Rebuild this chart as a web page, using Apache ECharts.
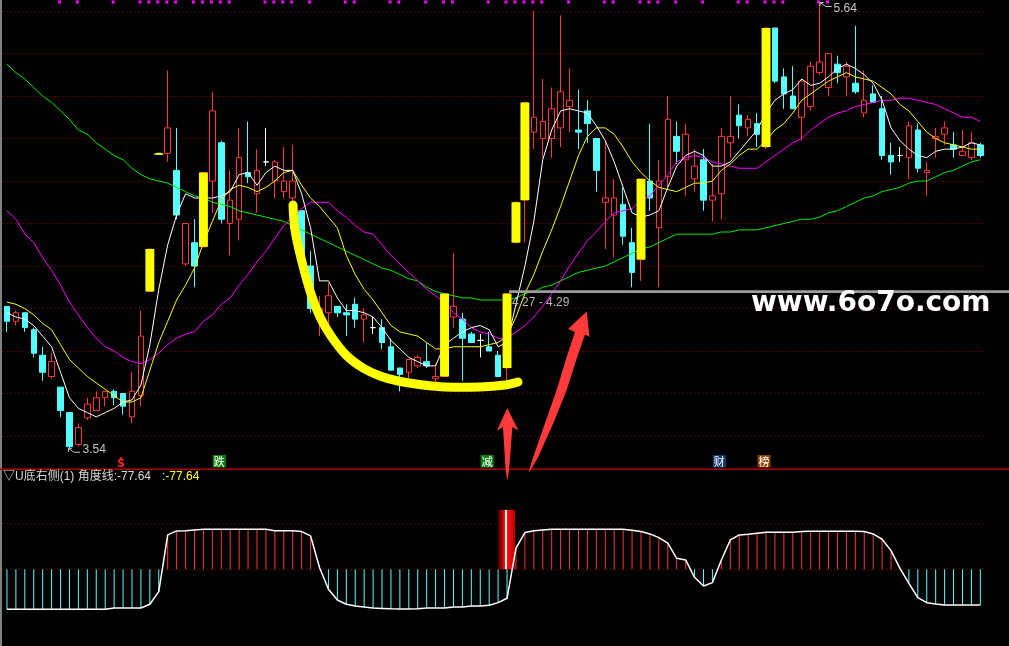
<!DOCTYPE html>
<html>
<head>
<meta charset="utf-8">
<script src="https://cdn.jsdelivr.net/npm/echarts@6/dist/echarts.min.js"></script>
<style>html,body{margin:0;padding:0;background:#000;overflow:hidden}#c{width:1009px;height:646px}</style>
</head>
<body>
<div id="c"></div>
<script>
// ---------- data ----------
const opens = [4.21,4.14,4.18,4.10,3.98,3.88,3.83,3.71,3.56,3.685,
3.72,3.78,3.81,3.80,3.69,3.79,4.28,4.93,4.93,4.85,
4.41,4.51,4.49,4.80,4.98,4.60,4.62,4.84,4.74,4.89,
4.80,4.75,4.72,4.66,4.40,4.17,4.18,4.21,4.18,4.22,
4.15,4.11,4.11,4.02,3.92,3.90,3.93,3.95,3.87,3.88,
4.16,4.15,4.08,4.05,4.02,3.98,3.92,4.51,4.71,5.03,
5.00,5.00,5.05,5.15,5.04,5.13,5.00,4.70,4.64,4.69,
4.51,4.43,4.80,4.58,4.82,5.01,4.90,4.81,4.90,4.71,
4.74,4.98,5.11,5.05,5.07,4.96,5.52,5.29,5.20,5.10,
5.15,5.31,5.24,5.35,5.29,5.26,5.12,5.21,5.14,4.92,
4.92,4.91,5.04,4.84,5.00,5.02,4.97,4.92,4.91,4.97];
const closes = [4.14,4.18,4.11,3.99,3.90,3.95,3.72,3.55,3.64,3.75,
3.78,3.81,3.78,3.74,3.81,4.07,4.48,4.93,5.05,4.64,
4.60,4.40,4.84,5.13,4.62,4.71,4.91,4.82,4.85,4.89,
4.89,4.80,4.80,4.45,4.20,4.20,4.26,4.18,4.17,4.15,
4.17,4.11,4.04,3.91,3.89,3.96,3.97,3.93,3.88,4.27,
4.21,4.06,4.04,4.05,4.00,3.88,4.27,4.70,5.17,5.10,
5.08,5.14,5.22,5.18,5.03,5.07,4.85,4.72,4.72,4.54,
4.37,4.81,4.72,4.80,5.09,4.94,5.02,4.87,4.71,4.73,
5.01,5.01,5.06,5.09,5.02,5.52,5.27,5.21,5.14,5.27,
5.34,5.36,5.40,5.31,5.34,5.22,5.18,5.17,4.92,4.89,
4.92,5.06,4.86,4.85,5.01,5.05,4.95,4.94,4.98,4.92];
const lows = [4.09,4.12,4.09,3.97,3.86,3.87,3.69,3.54,3.55,3.675,
3.72,3.74,3.745,3.70,3.66,3.74,4.28,4.93,4.89,4.62,
4.40,4.30,4.49,4.65,4.60,4.45,4.52,4.79,4.65,4.87,
4.72,4.72,4.68,4.43,4.18,4.07,4.11,4.16,4.07,4.11,
4.04,4.08,4.01,3.91,3.81,3.87,3.92,3.92,3.85,3.88,
4.11,3.86,4.04,3.97,4.00,3.88,3.85,4.51,4.51,4.95,
4.91,4.91,4.96,5.03,4.95,4.98,4.75,4.48,4.44,4.50,
4.30,4.33,4.66,4.30,4.77,4.88,4.73,4.75,4.66,4.61,
4.62,4.91,5.00,5.01,4.96,4.95,5.26,5.14,5.14,4.99,
5.13,5.30,5.20,5.26,5.20,5.21,5.10,5.17,4.90,4.83,
4.89,4.81,4.84,4.73,4.91,4.97,4.91,4.92,4.90,4.91];
const highs = [4.21,4.19,4.18,4.11,4.02,3.99,3.83,3.71,3.66,3.78,
3.81,3.81,3.82,3.80,3.90,4.19,4.48,4.93,5.32,5.05,
4.60,4.62,4.84,5.22,4.99,4.85,5.05,5.08,4.95,5.05,
4.90,4.96,4.97,4.66,4.47,4.26,4.32,4.21,4.22,4.25,
4.20,4.16,4.15,4.06,3.92,3.96,3.98,4.04,3.94,4.27,
4.46,4.18,4.09,4.08,4.09,4.00,4.27,4.70,5.17,5.60,
5.28,5.24,5.58,5.33,5.23,5.18,5.00,4.99,4.81,4.77,
4.58,4.81,5.07,4.90,5.20,5.08,5.07,4.95,4.95,4.88,
5.05,5.20,5.16,5.11,5.12,5.52,5.52,5.33,5.34,5.28,
5.36,5.64,5.40,5.39,5.36,5.53,5.32,5.25,5.20,4.98,
4.96,5.08,5.07,4.89,5.05,5.08,5.03,5.04,5.03,4.98];
// moving-average lines (white, yellow, magenta, green)
const maWhite = [4.18,4.16,4.15,4.12,4.07,4.02,3.90,3.78,3.73,3.71,
3.69,3.71,3.73,3.76,3.77,3.84,4.03,4.29,4.50,4.64,
4.74,4.72,4.72,4.72,4.73,4.75,4.83,4.84,4.78,4.84,
4.87,4.85,4.85,4.74,4.58,4.33,4.33,4.25,4.19,4.19,
4.18,4.16,4.11,4.05,4.01,3.97,3.95,3.93,3.93,4.03,
4.06,4.09,4.11,4.12,4.10,4.02,4.04,4.22,4.40,4.61,
4.90,5.04,5.13,5.14,5.13,5.12,5.06,4.99,4.89,4.77,
4.65,4.63,4.64,4.66,4.77,4.87,4.92,4.94,4.92,4.87,
4.87,4.89,4.94,4.99,5.04,5.12,5.18,5.21,5.23,5.28,
5.25,5.26,5.29,5.33,5.35,5.33,5.30,5.26,5.18,5.05,
4.99,4.95,4.92,4.91,4.94,4.95,4.95,4.96,4.98,4.97];
const maYellow = [4.23,4.22,4.20,4.17,4.13,4.10,4.03,3.96,3.92,3.88,
3.85,3.82,3.79,3.76,3.76,3.78,3.91,4.04,4.14,4.24,
4.31,4.39,4.51,4.61,4.71,4.76,4.78,4.77,4.75,4.77,
4.80,4.84,4.85,4.78,4.72,4.68,4.63,4.58,4.45,4.36,
4.29,4.24,4.18,4.12,4.09,4.08,4.07,4.04,4.01,4.01,
4.02,4.02,4.02,4.02,4.03,4.04,4.07,4.16,4.27,4.36,
4.47,4.57,4.68,4.80,4.92,5.01,5.05,5.05,5.02,4.96,
4.89,4.84,4.80,4.77,4.76,4.75,4.77,4.79,4.79,4.80,
4.85,4.88,4.92,4.95,4.95,4.99,5.04,5.07,5.12,5.18,
5.21,5.24,5.27,5.29,5.31,5.29,5.28,5.27,5.24,5.21,
5.16,5.13,5.08,5.03,5.00,4.98,4.97,4.96,4.95,4.95];
const maMagenta = [4.66,4.62,4.55,4.51,4.44,4.38,4.31,4.23,4.17,4.11,
4.06,4.02,4.00,3.97,3.95,3.94,3.96,3.99,4.03,4.06,
4.08,4.09,4.14,4.17,4.22,4.25,4.31,4.36,4.42,4.47,
4.53,4.59,4.63,4.67,4.70,4.70,4.70,4.66,4.63,4.59,
4.56,4.55,4.50,4.45,4.41,4.37,4.33,4.29,4.26,4.23,
4.18,4.15,4.11,4.09,4.08,4.06,4.06,4.09,4.12,4.16,
4.21,4.27,4.33,4.40,4.46,4.52,4.56,4.61,4.65,4.66,
4.67,4.71,4.73,4.78,4.83,4.89,4.91,4.92,4.91,4.89,
4.88,4.87,4.86,4.86,4.86,4.89,4.92,4.95,4.98,5.00,
5.04,5.07,5.10,5.12,5.13,5.15,5.16,5.17,5.18,5.18,
5.19,5.19,5.18,5.17,5.16,5.14,5.12,5.10,5.10,5.08];
const maGreen = [5.35,5.31,5.28,5.24,5.20,5.17,5.13,5.09,5.04,5.02,
4.98,4.95,4.92,4.90,4.86,4.83,4.81,4.80,4.79,4.77,
4.75,4.73,4.72,4.70,4.69,4.68,4.66,4.65,4.64,4.63,
4.62,4.61,4.59,4.57,4.55,4.53,4.51,4.49,4.47,4.45,
4.43,4.41,4.39,4.38,4.36,4.34,4.33,4.30,4.28,4.27,
4.26,4.25,4.25,4.24,4.24,4.24,4.24,4.25,4.27,4.28,
4.30,4.31,4.33,4.35,4.37,4.38,4.39,4.40,4.42,4.44,
4.46,4.48,4.49,4.51,4.53,4.55,4.55,4.55,4.55,4.55,
4.56,4.56,4.57,4.57,4.57,4.58,4.59,4.60,4.61,4.62,
4.62,4.63,4.65,4.66,4.68,4.70,4.72,4.73,4.75,4.76,
4.77,4.79,4.80,4.80,4.82,4.84,4.85,4.87,4.89,4.90];
// limit-up days highlighted with yellow bars
const limitUp = [16,17,22,49,56,57,58,71,85];
// lower panel: "角度线" angle line
const angle = [-87,-87,-87,-87,-87,-87,-87,-87,-87,-87,
-87,-87,-84,-84,-84,-84,-76,-48.6,74.7,83.4,
84,85.5,87,87,87,87,87,87,87,87,
84,84,84,82,72.5,4,-43.5,-66.7,-76,-79.7,
-82,-84,-85,-86,-86.3,-86.3,-86,-84,-84,-84,
-82,-82,-79.7,-79.7,-78.3,-72.5,-63,46,79.8,84,
85.5,87,87,87,87,87,87,87,87,87,
84.8,82,76.9,68.9,57,23.9,20.3,-17.4,-36.3,-29,
20.3,63.8,74.7,76.1,78.3,80.5,80.5,80.5,80.5,82,
82.7,82.7,82.7,82.7,82.7,82.7,82,76.9,65.3,40.6,
2.2,-30.5,-61.6,-72.5,-75.4,-77.6,-77.6,-77.6,-77.6,-77.64];
const signalIdx = [56];
const signalVal = [129];
const topMarks = [6,8,12,15,16,17,18,19,21,22,23,24,25,29,30,31,32,34,38,39,43,44,47,49,50,54,56,57,58,59,60,63,67,68,71,72,73,75,78,82,83,85,86,87,91,92];
const eventIdx = [13,24,54,80,85];
const eventText = ['S','跌','减','财','榜'];
const hiIdx = 91, hiVal = 5.64, loIdx = 7, loVal = 3.54;
const rangeIdx = 56, rangeVal = 4.28, rangeText = '4.27 - 4.29';
const titleText = '▽U底右侧(1) 角度线:-77.64';
const titleValue = ':-77.64';
const watermark = 'www.6o7o.com';
const priceTicks = {min: 3.6, max: 5.6, step: 0.2};

// ---------- chart ----------
const N = opens.length;
const cats = opens.map((_, i) => String(i + 1));
const candleData = opens.map((o, i) => [o, closes[i], lows[i], highs[i]]);
const UP = '#ff3636', DN = '#54ffff';
const GRIDC = '#a00000';
const chart = echarts.init(document.getElementById('c'), null, {renderer: 'canvas'});

function maSeries(data, color) {
  return {type: 'line', xAxisIndex: 0, yAxisIndex: 0, data: data, symbol: 'none', clip: false,
    lineStyle: {color: color, width: 1}, silent: true, z: 3};
}
const splitStyle = {show: true, lineStyle: {color: GRIDC, type: [1, 3], width: 1}};

const option = {
  backgroundColor: '#000',
  animation: false,
  grid: [
    {left: 2.5, width: 982.3, top: 11, height: 425},
    {left: 2.5, width: 982.3, top: 523.3, height: 46}
  ],
  xAxis: [
    {type: 'category', gridIndex: 0, data: cats, boundaryGap: true, show: false},
    {type: 'category', gridIndex: 1, data: cats, boundaryGap: true, show: false}
  ],
  yAxis: [
    {type: 'value', gridIndex: 0, min: priceTicks.min, max: priceTicks.max, interval: priceTicks.step,
      axisLabel: {show: false}, axisLine: {show: false}, axisTick: {show: false}, splitLine: splitStyle},
    {type: 'value', gridIndex: 1, min: 0, max: 100, interval: 100,
      axisLabel: {show: false}, axisLine: {show: false}, axisTick: {show: false}, splitLine: splitStyle}
  ],
  series: [
    {type: 'candlestick', xAxisIndex: 0, yAxisIndex: 0, data: candleData, barWidth: 6, clip: false, z: 2,
      itemStyle: {color: '#000', color0: DN, borderColor: UP, borderColor0: DN,
        borderColorDoji: '#ffffff', borderWidth: 1}},
    maSeries(maGreen, '#00ee00'),
    maSeries(maMagenta, '#ff00ff'),
    maSeries(maYellow, '#ffff00'),
    maSeries(maWhite, '#ffffff'),
    // yellow limit-up bars
    {type: 'custom', xAxisIndex: 0, yAxisIndex: 0, z: 6, clip: false,
      data: limitUp.map(i => [i, opens[i], closes[i]]),
      renderItem: function (params, api) {
        const a = api.coord([api.value(0), api.value(1)]);
        const b = api.coord([api.value(0), api.value(2)]);
        const w = api.size([1, 0])[0];
        const top = Math.min(a[1], b[1]);
        const h = Math.max(Math.abs(a[1] - b[1]), 1.5);
        return {type: 'rect', shape: {x: a[0] - w / 2, y: top, width: w, height: h}, style: {fill: '#ffff00'}};
      }},
    // top magenta marks
    {type: 'custom', xAxisIndex: 0, yAxisIndex: 0, z: 6, clip: false,
      data: topMarks.map(i => [i, priceTicks.max]),
      renderItem: function (params, api) {
        const p = api.coord([api.value(0), api.value(1)]);
        return {type: 'rect', shape: {x: p[0] - 2.5, y: 0.5, width: 3, height: 3}, style: {fill: '#ff00ff'}};
      }},
    // event markers at bottom of main panel
    {type: 'custom', xAxisIndex: 0, yAxisIndex: 0, z: 6, clip: false,
      data: eventIdx.map((i, k) => [i, k]),
      renderItem: function (params, api) {
        const k = api.value(1);
        const x = api.coord([api.value(0), priceTicks.min])[0] - 2;
        const t = eventText[k];
        if (t === 'S') {
          return {type: 'group', children: [
            {type: 'polygon', shape: {points: [[x, 456.5], [x - 2.5, 460], [x + 2.5, 460]]}, style: {fill: '#ff2020'}},
            {type: 'text', x: x, y: 464.5, style: {text: 'S', fill: '#ff2020', fontSize: 11, fontWeight: 'bold',
              fontFamily: 'DejaVu Sans', align: 'center', verticalAlign: 'middle'}}
          ]};
        }
        const bg = {'跌': '#0b820b', '减': '#0b820b', '财': '#123c70', '榜': '#8a4600'}[t];
        return {type: 'group', children: [
          {type: 'rect', shape: {x: x - 6.5, y: 455, width: 13, height: 12.5}, style: {fill: bg}},
          {type: 'text', x: x, y: 461.5, style: {text: t, fill: '#ffffff', fontSize: 11,
            fontFamily: 'Noto Sans CJK SC', align: 'center', verticalAlign: 'middle'}}
        ]};
      }},
    // indicator sticks
    {type: 'custom', xAxisIndex: 1, yAxisIndex: 1, z: 2, clip: false,
      data: angle.map((v, i) => [i, v]),
      renderItem: function (params, api) {
        const v = api.value(1);
        const p0 = api.coord([api.value(0), 0]);
        const p1 = api.coord([api.value(0), v]);
        return {type: 'line', shape: {x1: p0[0], y1: p0[1], x2: p1[0], y2: p1[1]},
          style: {stroke: v >= 0 ? '#ff3636' : '#54ffff', lineWidth: 1}};
      }},
    // signal bar
    {type: 'custom', xAxisIndex: 1, yAxisIndex: 1, z: 4, clip: false,
      data: signalIdx.map((i, k) => [i, signalVal[k]]),
      renderItem: function (params, api) {
        const p0 = api.coord([api.value(0), 0]);
        const p1 = api.coord([api.value(0), api.value(1)]);
        const w = 17;
        return {type: 'rect', shape: {x: p0[0] - w / 2 - 0.5, y: p1[1], width: w, height: p0[1] - p1[1]},
          style: {fill: new echarts.graphic.LinearGradient(0, 0, 1, 0, [
            {offset: 0, color: '#4a0000'}, {offset: 0.25, color: '#b00000'}, {offset: 0.42, color: '#ff1a1a'},
            {offset: 0.44, color: '#ffffff'}, {offset: 0.5, color: '#ffffff'}, {offset: 0.52, color: '#ff1010'},
            {offset: 0.85, color: '#e00000'}, {offset: 1, color: '#a00000'}])}};
      }},
    // indicator line
    {type: 'line', xAxisIndex: 1, yAxisIndex: 1, data: angle, symbol: 'none', clip: false, z: 5,
      lineStyle: {color: '#ffffff', width: 1.5}, silent: true}
  ]
};
chart.setOption(option);

// ---------- annotations ----------
const rangeY = chart.convertToPixel({gridIndex: 0}, [rangeIdx, rangeVal])[1];
const rangeX = chart.convertToPixel({gridIndex: 0}, [rangeIdx, rangeVal])[0] + 2;
const hiP = chart.convertToPixel({gridIndex: 0}, [hiIdx, hiVal]);
const loP = chart.convertToPixel({gridIndex: 0}, [loIdx, loVal]);
const LBL = '#c4c4c4';
const labelFont = {fontSize: 12, fontFamily: 'Liberation Sans, Arial, sans-serif'};

function tagArrow(x, y) {
  // small "↖—" pointer used by TDX for high/low tags
  return [
    {type: 'polyline', z: 50, shape: {points: [[x + 12, y + 4.5], [x + 6, y + 4.5], [x + 0.5, y + 0.5]]}, style: {stroke: LBL, lineWidth: 1, fill: null}},
    {type: 'polyline', z: 50, shape: {points: [[x + 4, y + 0.5], [x + 0.5, y + 0.5], [x + 0.5, y + 4]]}, style: {stroke: LBL, lineWidth: 1, fill: null}}
  ];
}

const graphics = [
  {type: 'rect', z: 50, shape: {x: 0, y: 0, width: 2, height: 646}, style: {fill: '#808080'}},
  {type: 'rect', z: 50, shape: {x: 0, y: 468.5, width: 1009, height: 1.5}, style: {fill: '#b00000'}},
  // hand-drawn U curve
  {type: 'polyline', z: 60, shape: {smooth: 0.35, points: [[293,205],[295,230],[302,262],[311,294],[320,317],[331,336],[346,355],[363,368],[380,376],[398,381],[423,385],[445,387],[480,387],[505,385],[518,382]]},
    style: {stroke: '#ffff00', lineWidth: 9, lineCap: 'round', lineJoin: 'round', fill: null}},
  // red arrows
  {type: 'polygon', z: 60, shape: {points: [[507.3,408],[518.5,430.5],[512.3,427],[510.7,450],[509,470],[507.3,481],[505.6,470],[504.4,450],[503,427],[497,430.5]]},
    style: {fill: '#ff3a3a'}},
  {type: 'polygon', z: 60, shape: {points: [[586.7,311.5],[589.5,337],[585,334.5],[577.3,356.7],[566.7,390],[553.3,423.3],[538.3,456.7],[530.7,470],[529.3,472.5],[529.3,470],[533.3,456.7],[545,423.3],[556.7,390],[566.7,356.7],[575,332],[568,329]]},
    style: {fill: '#ff3a3a'}},
  // range line
  {type: 'rect', z: 40, shape: {x: rangeX, y: rangeY - 1.3, width: 1009 - rangeX, height: 2.7}, style: {fill: '#9c9c9c'}},
  {type: 'text', z: 41, x: rangeX + 3, y: rangeY + 11, style: Object.assign({text: rangeText, fill: '#b8b8b8', align: 'left', verticalAlign: 'middle'}, labelFont)},
  // watermark
  {type: 'text', z: 70, x: 751, y: 304, style: {text: watermark, fill: '#ffffff', fontSize: 28, fontWeight: 'bold',
    fontFamily: 'DejaVu Sans', align: 'left', verticalAlign: 'middle'}},
  // high / low tags
  {type: 'text', z: 50, x: hiP[0] + 14, y: hiP[1] + 6, style: Object.assign({text: hiVal.toFixed(2), fill: LBL, align: 'left', verticalAlign: 'middle'}, labelFont)},
  {type: 'text', z: 50, x: loP[0] + 13, y: loP[1] + 1, style: Object.assign({text: loVal.toFixed(2), fill: LBL, align: 'left', verticalAlign: 'middle'}, labelFont)},
  // indicator title
  {type: 'text', z: 50, x: 3, y: 477, style: {text: titleText, fill: '#d8d8d8', fontSize: 12,
    fontFamily: 'Liberation Sans, Noto Sans CJK SC, sans-serif', align: 'left', verticalAlign: 'middle'}},
  {type: 'text', z: 50, x: 162, y: 477, style: {text: titleValue, fill: '#ffff00', fontSize: 12,
    fontFamily: 'Liberation Sans, sans-serif', align: 'left', verticalAlign: 'middle'}}
].concat(tagArrow(hiP[0], hiP[1] - 0.5), tagArrow(loP[0] - 1.5, loP[1] - 1));

chart.setOption({graphic: graphics});
</script>
</body>
</html>
